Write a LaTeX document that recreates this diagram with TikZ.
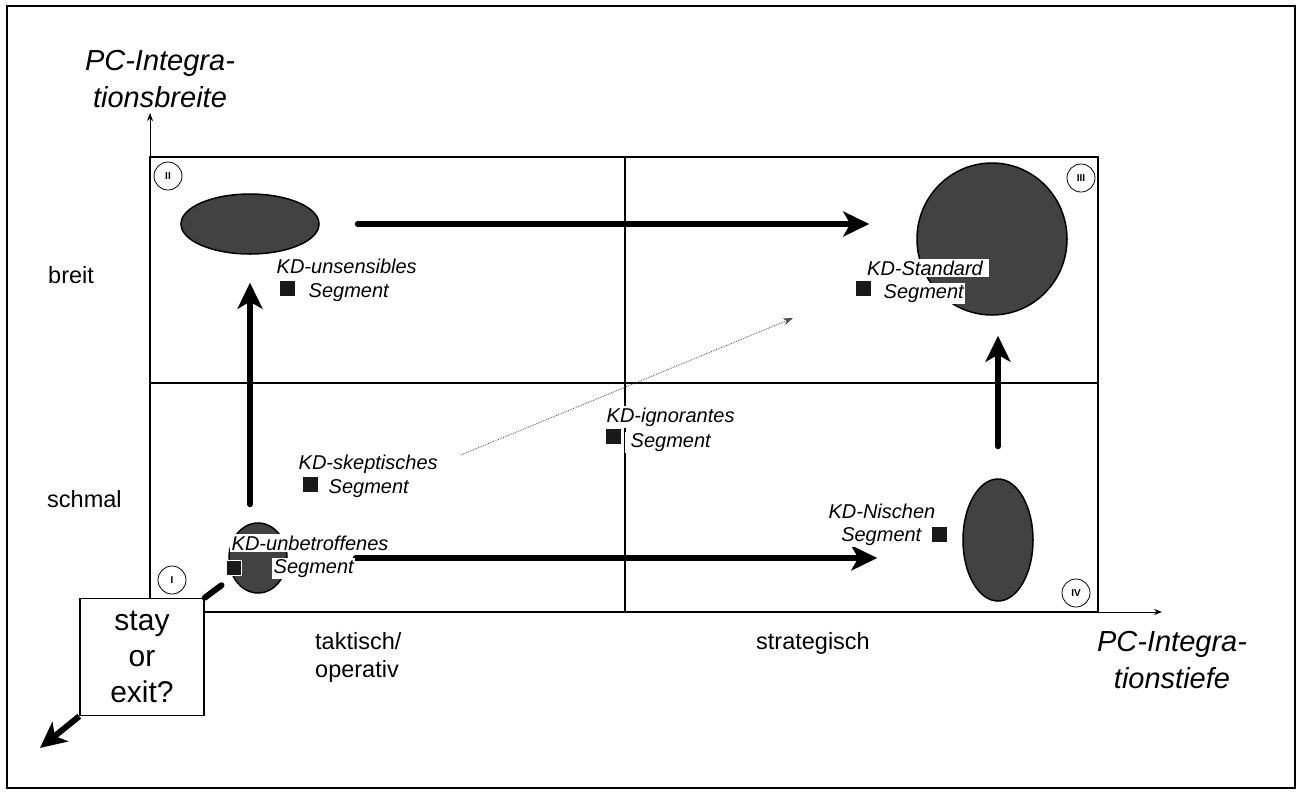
\documentclass[tikz,border=0pt]{standalone}
\usepackage{fontspec}
\setmainfont{Liberation Sans}
\usepackage{tikz}
\usetikzlibrary{arrows.meta,positioning,shapes.geometric}
\newcommand{\segfont}{\fontsize{20}{24}\selectfont\itshape}
\newcommand{\axisfont}{\fontsize{29}{37}\selectfont\itshape}
\newcommand{\levelfont}{\fontsize{23.5}{28}\selectfont}

\begin{document}
\begin{tikzpicture}[
    x=1pt, y=-1pt,
    frame/.style={line width=1.5pt},
    axis/.style={-{Stealth[length=8pt, width=6pt]}, line width=1pt},
    blob/.style={ellipse, draw, line width=1.5pt, fill=black!74, inner sep=0pt},
    quad/.style={circle, draw, line width=0.8pt, minimum size=28pt, inner sep=0pt,
                 font=\fontsize{10}{10}\selectfont\bfseries},
    seg/.style={anchor=base west, fill=white, inner sep=1.5pt, font=\segfont},
    sq/.style={fill=black!90, minimum size=15pt, inner sep=0pt},
    level/.style={font=\levelfont, inner sep=0pt},
    axlab/.style={font=\axisfont, align=center, inner sep=0pt, anchor=base},
    bigarr/.style={-{Stealth[length=26pt, width=25pt, inset=7pt]}, line width=6pt, line cap=round},
    dotarr/.style={-{Stealth[length=10pt, width=7pt]}, densely dotted, line width=0.8pt, black!70}]
  \useasboundingbox (0,0) rectangle (1301,793);
  \draw[frame] (7,6) rectangle (1295,788);
  \draw[frame] (150,157) rectangle (1098,612);
  \draw[frame] (625,157) -- (625,612);
  \draw[frame] (150,383) -- (1098,383);
  \coordinate (origin) at (150,612);
  \coordinate (ytip) at (150,113);
  \coordinate (xtip) at (1162,612);
  \draw[axis] (origin) -- (ytip);
  \draw[axis] (origin) -- (xtip);

  \node[axlab] (ylab) at (160,107) {PC-Integra-\\tionsbreite};
  \node[axlab] (xlab) at (1172,688) {PC-Integra-\\tionstiefe};
  \node[level, anchor=base west] (breit) at (48,283) {breit};
  \node[level, anchor=base west] (schmal) at (47,507) {schmal};
  \node[level, anchor=base west, align=left] (takt) at (315,677) {taktisch/\\operativ};
  \node[level, anchor=base] (strat) at (813,649) {strategisch};

  \node[blob, minimum width=138pt, minimum height=60pt] (e2) at (250,224) {};
  \node[blob, minimum width=150pt, minimum height=152pt] (e3) at (992,239) {};
  \node[blob, minimum width=58pt, minimum height=70pt] (e1) at (258,558) {};
  \node[blob, minimum width=70pt, minimum height=122pt] (e4) at (998,540) {};

  \node[quad] (q1) at (172,580) {I};
  \node[quad] (q2) at (168,176) {II};
  \node[quad] (q3) at (1081,178) {III};
  \node[quad] (q4) at (1076,593) {IV};

  \draw[bigarr, shorten <=38pt, shorten >=47pt] (e2.east) -- (e2.east -| e3.west);
  \draw[bigarr, shorten <=18pt, shorten >=28pt] (e2.south |- e1.north) -- (e2.south);
  \draw[bigarr, shorten <=68pt, shorten >=85pt] (e1.east) -- (e1.east -| e4.west);
  \draw[bigarr, shorten <=32pt, shorten >=20pt] (e4.north) -- (e4.north |- e3.south);

  \node[seg] (unsens) at (275,273) {KD-unsensibles};
  \node[sq] (unsenssq) at (287,288) {};
  \node[seg] (unsensseg) at (307,297) {Segment};

  \node[seg, inner xsep=6pt] (stand) at (861,275) {KD-Standard};
  \node[sq] (standsq) at (863,288) {};
  \node[seg] (standseg) at (882,298) {Segment};

  \node[seg] (ignor) at (605,422) {KD-ignorantes};
  \node[sq] (ignorsq) at (613,436) {};
  \node[seg] (ignorseg) at (625,447) {\hspace{4pt}Segment};

  \node[seg] (skept) at (297,469) {KD-skeptisches};
  \node[sq] (skeptsq) at (310,484) {};
  \node[seg] (skeptseg) at (327,493) {Segment};

  \node[seg, anchor=base east] (nisch) at (937,518) {KD-Nischen};
  \node[seg, anchor=base east] (nischseg) at (923,541) {Segment};
  \node[sq] (nischsq) at (939,534) {};

  \node[seg] (unbetr) at (230,550) {KD-unbetroffenes};
  \node[sq, draw=white, line width=1.5pt] (unbetrsq) at (234,568) {};
  \node[seg] (unbetrseg) at (272,573) {Segment};

  \coordinate (dotend) at (793,318);
  \draw[dotarr, shorten <=24pt] (skept.east) -- (dotend);

  \node[draw, fill=white, line width=1.5pt, minimum width=124pt, minimum height=117pt,
        align=center, inner sep=0pt, font=\fontsize{30}{36}\selectfont] (stay) at (142,657) {stay\\or\\exit?};
  \coordinate (exit) at (40,748);
  \draw[line width=6pt, line cap=round, shorten <=14pt] (e1) -- (stay.north east);
  \draw[bigarr, line cap=butt] (stay.south west) -- (exit);
\end{tikzpicture}
\end{document}
